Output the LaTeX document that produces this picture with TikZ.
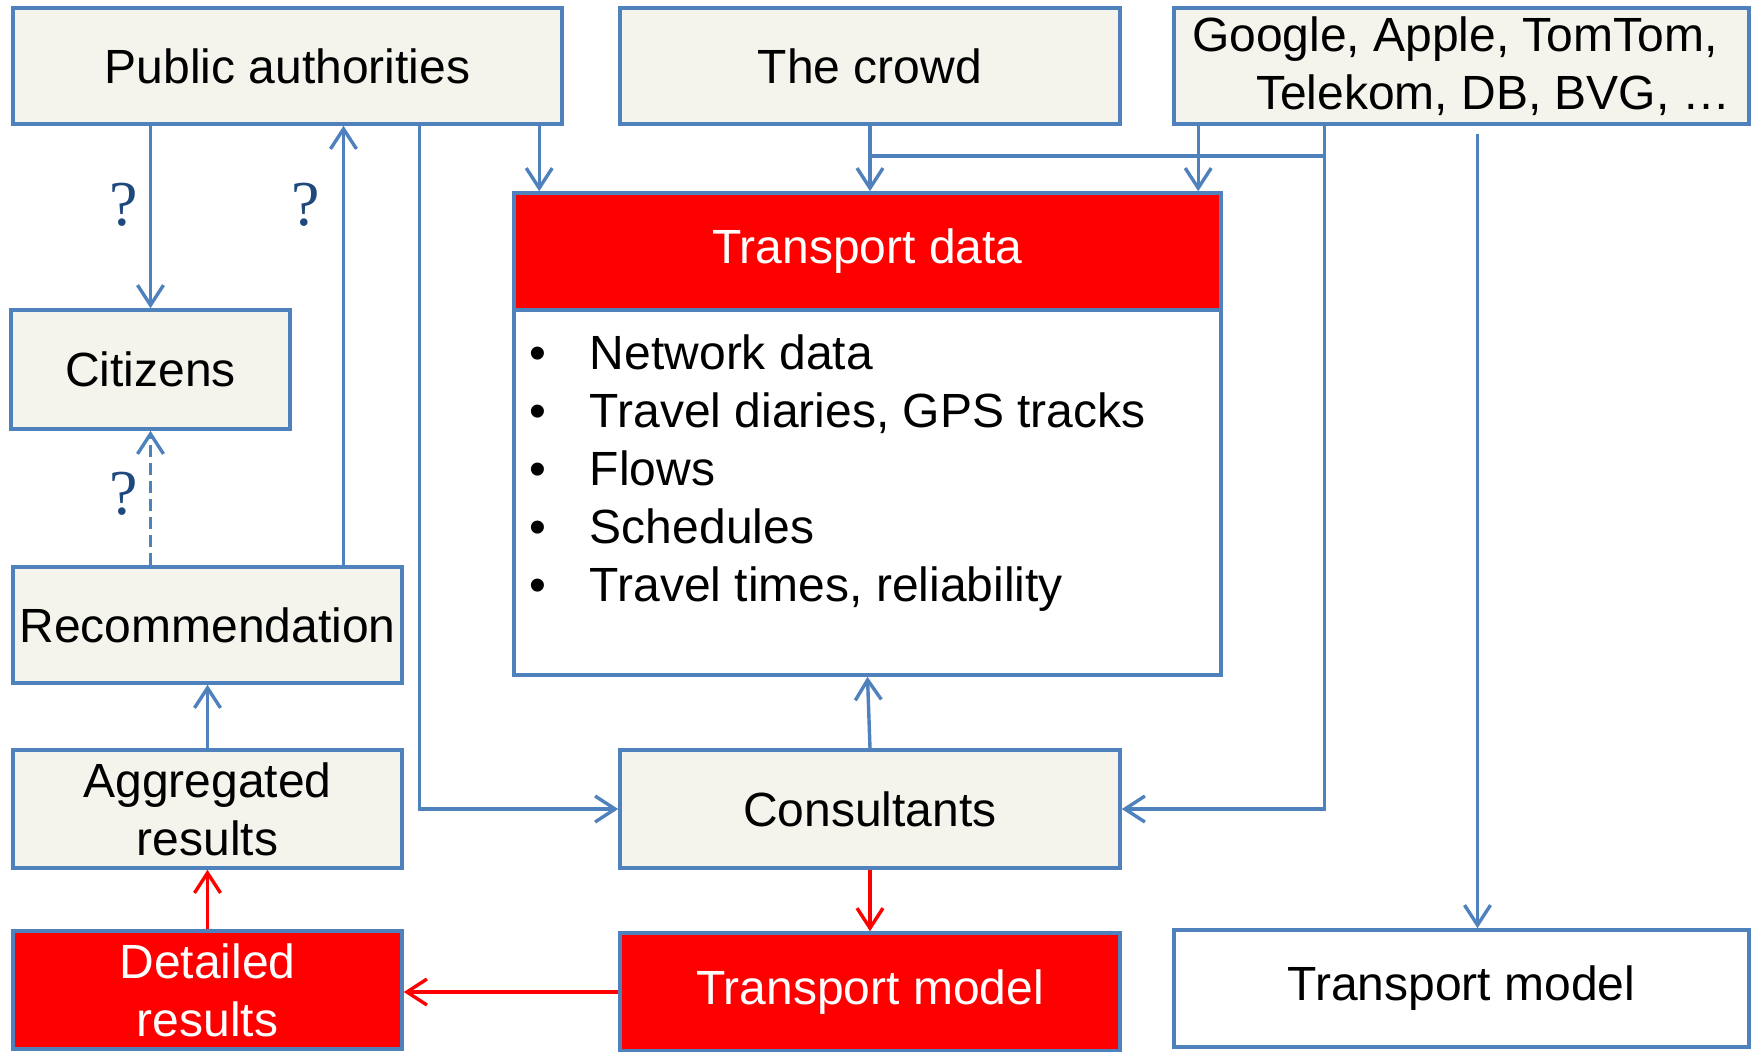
\documentclass[tikz,border=0pt]{standalone}
\usepackage{fontspec}
\setmainfont{Liberation Sans}
\newfontfamily\qfont{Liberation Serif}
\usetikzlibrary{arrows.meta}
\definecolor{boxblue}{HTML}{4F81BD}
\definecolor{boxfill}{HTML}{F4F3EC}
\definecolor{qblue}{HTML}{1F497D}
\begin{document}
\begin{tikzpicture}[x=0.25pt, y=-0.25pt,
  every node/.style={font=\fontsize{12}{14.5}\selectfont, inner sep=0pt},
  greybox/.style={draw=boxblue, line width=0.9pt, fill=boxfill, minimum height=29pt, align=center},
  redbox/.style={greybox, fill=red, text=white},
  whitebox/.style={greybox, fill=white},
  link/.style={draw=boxblue, line width=0.85pt, -{Straight Barb[length=5pt,width=6.5pt]}},
  redlink/.style={link, draw=red},
  qmark/.style={font=\qfont\fontsize{16}{16}\selectfont, text=qblue}]

\useasboundingbox (0,0) rectangle (1756,1051);

\node[greybox, minimum width=137.25pt] (pa) at (287.5,66) {Public authorities};
\node[greybox, minimum width=125pt] (crowd) at (870,66) {The crowd};
\node[greybox, minimum width=143.75pt, align=left] (comp) at (1461.5,66) {Google, Apple, TomTom,\\\hspace*{16pt}Telekom, DB, BVG, …};
\node[greybox, minimum width=69.75pt, minimum height=29.75pt] (cit) at (150.5,369.5) {Citizens};
\node[greybox, minimum width=97.25pt] (rec) at (207.5,625) {Recommendation};
\node[greybox, minimum width=97.25pt, minimum height=29.5pt] (agg) at (207.5,809) {Aggregated\\results};
\node[redbox, minimum width=97.25pt, minimum height=29.5pt] (det) at (207.5,990) {Detailed\\results};
\node[whitebox, minimum width=176.75pt, minimum height=91.25pt] (tdb) at (867.5,492.5) {};
\node[redbox, minimum width=176.75pt, minimum height=29.25pt] (tdh) at (867.5,251.5) {Transport data};
\node[anchor=north west, align=left] (tdlist) at ([xshift=4pt, yshift=-6.5pt]tdb.north west) {%
\makebox[15.25pt][l]{•}Network data\\
\makebox[15.25pt][l]{•}Travel diaries, GPS tracks\\
\makebox[15.25pt][l]{•}Flows\\
\makebox[15.25pt][l]{•}Schedules\\
\makebox[15.25pt][l]{•}Travel times, reliability};
\node[greybox, minimum width=125pt, minimum height=29.5pt] (cons) at (870,809) {Consultants};
\node[redbox, minimum width=125pt, minimum height=29.5pt] (tm) at (870,992) {Transport model};
\node[whitebox, minimum width=143.75pt, minimum height=29.25pt] (tm2) at (1461.5,988.5) {Transport model};

\node[qmark] (q1) at (124,205) {?};
\node[qmark] (q2) at (306,205) {?};
\node[qmark] (q3) at (124,494) {?};

\coordinate (padown) at ([xshift=33pt]pa.south);
\coordinate (paup) at ([xshift=34pt]rec.north);
\coordinate (patd) at ([xshift=6.75pt]tdh.north west);
\coordinate (comptd) at ([xshift=6.5pt]comp.south west);
\coordinate (compcons) at ([xshift=38pt]comp.south west);
\coordinate (comptm) at ([xshift=4pt, yshift=-2pt]comp.south);
\coordinate (crowdj) at ([yshift=-7.5pt]crowd.south);

\draw[link] (cit.north |- pa.south) -- (cit.north);
\draw[link] (paup) -- (paup |- pa.south);
\draw[link] (padown) |- (cons.west);
\draw[link] (patd |- pa.south) -- (patd);
\draw[link] (crowd.south) -- (crowd.south |- tdh.north);
\draw[link] (comptd) -- (comptd |- tdh.north);
\draw[link] (compcons) |- (cons.east);
\draw[draw=boxblue, line width=0.85pt] (crowdj) -- (crowdj -| compcons);
\draw[link] (comptm) -- (comptm |- tm2.north);
\draw[link] (cons.north) -- (tdb.south);
\draw[redlink] (cons.south) -- (tm.north);
\draw[redlink] (tm.west) -- (tm.west -| det.east);
\draw[redlink] (det.north) -- (agg.south);
\draw[link] (agg.north) -- (rec.south);
\draw[link, dash pattern=on 3pt off 1.5pt] (rec.north -| cit.south) -- (cit.south);
\end{tikzpicture}
\end{document}
